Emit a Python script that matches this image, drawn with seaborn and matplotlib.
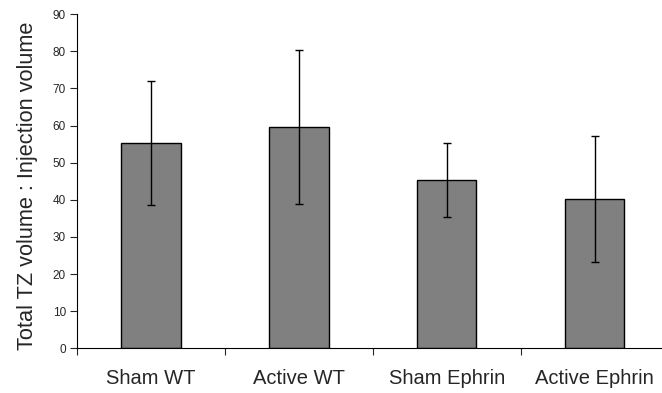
import pandas as pd
import matplotlib
matplotlib.use('Agg')
import matplotlib.pyplot as plt
import seaborn as sns

# Chart data
groups = ['Sham WT', 'Active WT', 'Sham Ephrin', 'Active Ephrin']
means = [55.2, 59.6, 45.3, 40.2]
errors = [16.7, 20.8, 9.9, 16.9]

df = pd.DataFrame({'group': groups, 'ratio': means})

sns.set_style('white')
plt.rcParams['font.family'] = ['Liberation Sans', 'DejaVu Sans']

fig = plt.figure(figsize=(6.62, 3.93), dpi=100)
ax = fig.add_axes([0.1163, 0.1133, 0.894, 0.851])

sns.barplot(data=df, x='group', y='ratio', color='#808080', saturation=1,
            width=0.4, edgecolor='black', linewidth=1, errorbar=None, ax=ax)
ax.errorbar(x=range(len(groups)), y=means, yerr=errors, fmt='none',
            ecolor='black', elinewidth=1, capsize=3, capthick=1)

ax.set_xlim(-0.5, 3.5)
ax.set_ylim(0, 90)
ax.set_yticks(range(0, 91, 10))
ax.set_xticks(range(len(groups)))
ax.set_xticklabels(groups, fontsize=14.5)
ax.set_xticks([-0.5, 0.5, 1.5, 2.5, 3.5], minor=True)
ax.tick_params(axis='x', which='major', length=0, pad=15)
ax.tick_params(axis='x', which='minor', length=5, width=0.8, direction='out', bottom=True)
ax.tick_params(axis='y', length=5, width=0.8, direction='out', left=True, labelsize=8.5, pad=3)

ax.set_xlabel('')
ax.set_ylabel('Total TZ volume : Injection volume', fontsize=15.7)
ax.yaxis.set_label_coords(-0.066, 0.486)

for s in ['top', 'right']:
    ax.spines[s].set_visible(False)
for s in ['left', 'bottom']:
    ax.spines[s].set_color('black')
    ax.spines[s].set_linewidth(0.8)

fig.savefig('out.png', dpi=100)
